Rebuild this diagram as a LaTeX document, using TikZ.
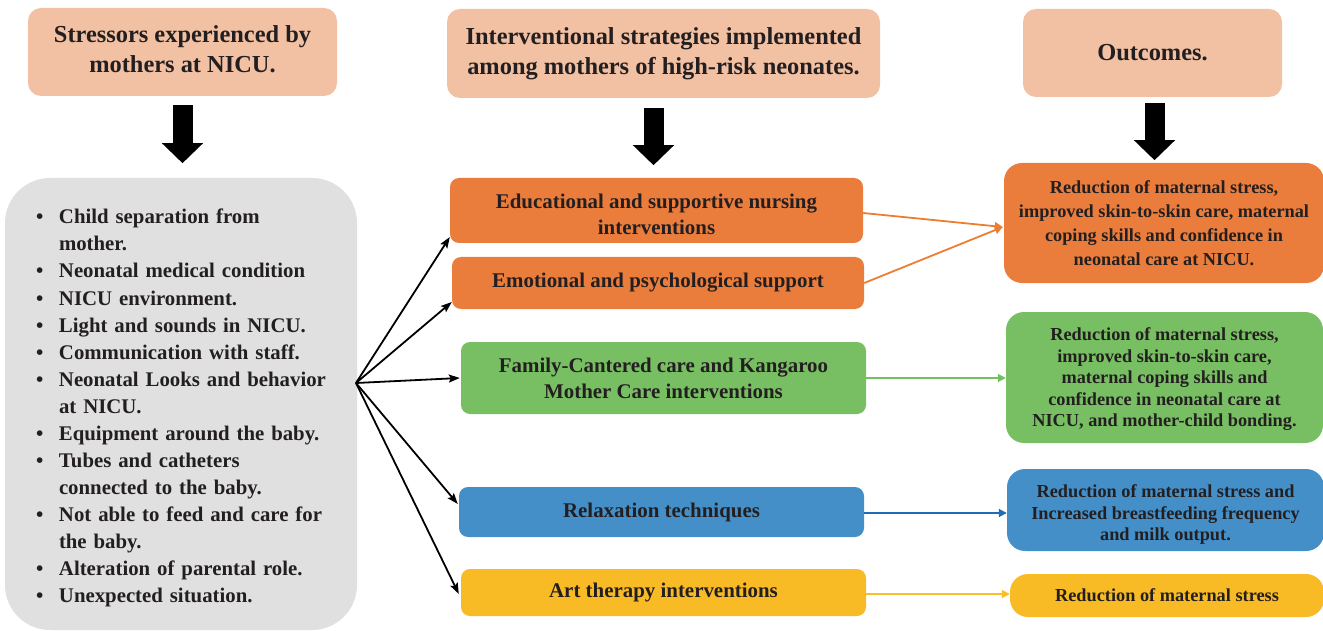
\documentclass[tikz,border=0pt]{standalone}
\usepackage{fontspec}
\setmainfont{Liberation Serif}
\usetikzlibrary{arrows.meta,calc}

\definecolor{peach}{HTML}{F2C0A2}
\definecolor{orangebox}{HTML}{EB7D3C}
\definecolor{greenbox}{HTML}{78BF63}
\definecolor{bluebox}{HTML}{458FC9}
\definecolor{yellowbox}{HTML}{F8BB25}
\definecolor{greybox}{HTML}{E0E0E0}
\definecolor{ink}{HTML}{231F20}
\definecolor{orangeline}{HTML}{ED7D31}
\definecolor{greenline}{HTML}{72C05E}
\definecolor{blueline}{HTML}{1F6DB5}
\definecolor{yellowline}{HTML}{F9BE2A}

% bullet item with hanging indent for the stressor list
\newcommand{\stitem}[1]{\par\hangindent=23pt\hangafter=1\noindent\hbox to 23pt{\textbullet\hfil}#1}
% invisible struts that nudge a text block inside its box
\newcommand{\tallstrut}[1]{\rule{0pt}{#1}}
\newcommand{\deepstrut}[1]{\rule[-#1]{0pt}{#1}}

\tikzset{
  header/.style={fill=peach, rounded corners=13pt, text=ink, inner sep=0pt,
    align=center, font=\fontsize{24.4}{30}\selectfont\bfseries},
  midbox/.style={rounded corners=9pt, text=ink, inner sep=0pt,
    align=center, font=\fontsize{20.9}{26}\selectfont\bfseries},
  outbox/.style={rounded corners=18pt, text=ink, inner sep=0pt,
    align=center, font=\fontsize{18.3}{21.4}\selectfont\bfseries},
  listbox/.style={fill=greybox, rounded corners=45pt, text=ink, inner sep=0pt,
    text width=290pt, align=left, font=\fontsize{20.8}{27.07}\selectfont\bfseries},
  bigarrow/.style={line width=20pt, -{Triangle[length=20pt,width=40pt]}, black},
  fanarrow/.style={line width=1.8pt, -{Stealth[length=11pt,width=8pt,inset=2pt]}, black},
  outarrow/.style={line width=1.8pt, -{Triangle[length=8pt,width=8pt]}},
}

\begin{document}
\begin{tikzpicture}[x=1pt,y=-1pt]
\useasboundingbox (0,0) rectangle (1323,631);

% column headers
\node[header, minimum width=309pt, minimum height=88pt] (h1) at (182.5,52)
  {Stressors experienced by\\mothers at NICU.\deepstrut{6pt}};
\node[header, minimum width=433pt, minimum height=89pt] (h2) at (663.5,53.5)
  {Interventional strategies implemented\\among mothers of high-risk neonates.};
\node[header, minimum width=259pt, minimum height=88pt] (h3) at (1152.5,53)
  {Outcomes.};

% stressors
\node[listbox, minimum width=352pt, minimum height=452pt] (stress) at (181,404) {%
  \stitem{Child separation from\newline mother.}
  \stitem{Neonatal medical condition}
  \stitem{NICU environment.}
  \stitem{Light and sounds in NICU.}
  \stitem{Communication with staff.}
  \stitem{Neonatal Looks and behavior\newline at NICU.}
  \stitem{Equipment around the baby.}
  \stitem{Tubes and catheters\newline connected to the baby.}
  \stitem{Not able to feed and care for\newline the baby.}
  \stitem{Alteration of parental role.}
  \stitem{Unexpected situation.\deepstrut{8.5pt}}\par};

% interventions
\node[midbox, fill=orangebox, minimum width=413pt, minimum height=65pt] (edu) at (656.5,210.5)
  {\tallstrut{22.5pt}Educational and supportive nursing\\interventions};
\node[midbox, fill=orangebox, minimum width=412pt, minimum height=52pt] (emo) at (658,283)
  {Emotional and psychological support};
\node[midbox, fill=greenbox, minimum width=405pt, minimum height=72pt] (fam) at (663.5,378)
  {Family-Cantered care and Kangaroo\\Mother Care interventions};
\node[midbox, fill=bluebox, minimum width=405pt, minimum height=50pt] (rel) at (661.5,512)
  {Relaxation techniques};
\node[midbox, fill=yellowbox, minimum width=405pt, minimum height=47pt] (art) at (663.5,592.5)
  {Art therapy interventions};

% outcomes
\node[outbox, fill=orangebox, minimum width=320pt, minimum height=120pt,
  font=\fontsize{18.3}{24}\selectfont\bfseries] (out1) at (1164,223)
  {Reduction of maternal stress,\\improved skin-to-skin care, maternal\\coping skills and confidence in\\neonatal care at NICU.};
\node[outbox, fill=greenbox, minimum width=317pt, minimum height=131pt] (out2) at (1164.5,377.5)
  {\tallstrut{16.5pt}Reduction of maternal stress,\\improved skin-to-skin care,\\maternal coping skills and\\confidence in neonatal care at\\NICU, and mother-child bonding.};
\node[outbox, fill=bluebox, minimum width=317pt, minimum height=82pt] (out3) at (1165.5,510)
  {\tallstrut{22.5pt}Reduction of maternal stress and\\Increased breastfeeding frequency\\and milk output.};
\node[outbox, fill=yellowbox, minimum width=314pt, minimum height=43pt] (out4) at (1167,595.5)
  {Reduction of maternal stress};

% heavy arrows below the headers
\draw[bigarrow] ([yshift=-9pt]h1.south) -- ++(0,58);
\draw[bigarrow] ([xshift=-10pt,yshift=-10pt]h2.south) -- ++(0,57);
\draw[bigarrow] ([xshift=2pt,yshift=-6pt]h3.south) -- ++(0,57);

% fan of arrows from the stressors to the interventions
\coordinate (fan) at (356,383);
\draw[fanarrow] (fan) -- ([yshift=-26.5pt]edu.west);
\draw[fanarrow] (fan) -- ([yshift=-19pt]emo.west);
\draw[fanarrow] (fan) -- ([xshift=-1pt]fam.west);
\draw[fanarrow] (fan) -- ([xshift=-1pt,yshift=8pt]rel.west);
\draw[fanarrow] (fan) -- ([xshift=-2pt,yshift=-1.5pt]art.west);

% interventions to outcomes
\draw[outarrow, orangeline] ([yshift=-2.5pt]edu.east) -- ([xshift=-1pt,yshift=-4pt]out1.west);
\draw[outarrow, orangeline] (emo.east) -- ([xshift=-1pt,yshift=-4pt]out1.west);
\draw[outarrow, greenline] (fam.east) -- (fam.east -| out2.west);
\draw[outarrow, blueline] ([yshift=-1pt]rel.east) -- ([yshift=-1pt]rel.east -| out3.west);
\draw[outarrow, yellowline] ([yshift=-1.5pt]art.east) -- ([yshift=-1.5pt]art.east -| out4.west);
\end{tikzpicture}
\end{document}
